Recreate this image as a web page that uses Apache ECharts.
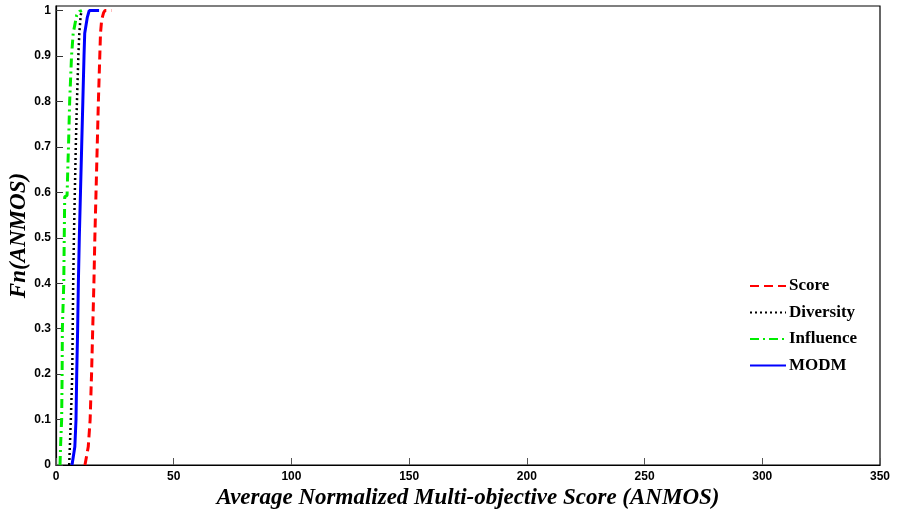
<!DOCTYPE html>
<html>
<head>
<meta charset="utf-8">
<script src="https://cdn.jsdelivr.net/npm/echarts@6/dist/echarts.min.js"></script>
<style>
  html, body { margin: 0; padding: 0; background: #fff; }
  #chart { width: 897px; height: 515px; }
</style>
</head>
<body>
<div id="chart"></div>
<script>
// Empirical CDFs of the Average Normalized Multi-objective Score per method
const scoreX = [12.3, 13.7, 14.5, 15.1, 15.6, 16.1, 16.5, 17.0, 17.5, 18.0, 18.6, 18.9, 19.4, 20.2, 20.8, 23.6];
const scoreY = [0, 0.04, 0.1, 0.2, 0.3, 0.4, 0.5, 0.6, 0.7, 0.8, 0.9, 0.95, 0.98, 0.995, 1, 1];

const diversityX = [5.6, 6.3, 6.9, 7.1, 7.3, 7.6, 8.0, 8.4, 8.9, 9.5, 9.9, 10.5, 11.0];
const diversityY = [0, 0.1, 0.2, 0.3, 0.4, 0.5, 0.6, 0.7, 0.8, 0.9, 0.95, 0.99, 1];

const influenceX = [1.7, 2.0, 2.4, 2.6, 2.7, 3.3, 3.5, 3.7, 4.7, 5.0, 5.3, 5.8, 6.6, 7.3, 8.8, 10.0, 11.0];
const influenceY = [0, 0.05, 0.1, 0.2, 0.3, 0.4, 0.5, 0.59, 0.593, 0.65, 0.7, 0.8, 0.9, 0.95, 0.99, 0.998, 1];

const modmX = [6.8, 8.0, 8.5, 8.8, 9.2, 9.5, 9.9, 10.4, 10.9, 11.4, 11.9, 12.2, 13.3, 14.1, 18.3];
const modmY = [0, 0.04, 0.1, 0.2, 0.3, 0.4, 0.5, 0.6, 0.7, 0.8, 0.9, 0.95, 0.985, 1, 1];

const seriesNames = ['Score', 'Diversity', 'Influence', 'MODM'];
const xTicks = [0, 50, 100, 150, 200, 250, 300, 350];
const yTicks = [0, 0.1, 0.2, 0.3, 0.4, 0.5, 0.6, 0.7, 0.8, 0.9, 1];

function pairs(xs, ys) {
  return xs.map((x, i) => [x, ys[i]]);
}

const chart = echarts.init(document.getElementById('chart'), null, { renderer: 'canvas' });

const tickFont = {
  fontFamily: '"Liberation Sans", Arial, sans-serif',
  fontWeight: 'bold',
  fontSize: 12,
  color: '#000'
};

const nameFont = {
  fontFamily: '"Liberation Serif", "Times New Roman", serif',
  fontStyle: 'italic',
  fontWeight: 'bold',
  fontSize: 23,
  color: '#000'
};

chart.setOption({
  animation: false,
  backgroundColor: '#fff',
  grid: {
    left: 56, right: 17, top: 6, bottom: 50,
    outerBoundsMode: 'none',
    containLabel: false,
    show: true, borderColor: '#000', borderWidth: 1.2, backgroundColor: 'transparent'
  },
  legend: {
    orient: 'vertical',
    left: 744,
    top: 272,
    itemWidth: 36,
    itemHeight: 14,
    itemGap: 8.5,
    data: seriesNames,
    itemStyle: { opacity: 0 },
    textStyle: {
      fontFamily: '"Liberation Serif", "Times New Roman", serif',
      fontWeight: 'bold',
      fontSize: 17,
      lineHeight: 18,
      color: '#000',
      padding: [0, 0, 0, -2]
    }
  },
  xAxis: {
    type: 'value',
    min: 0, max: 350, interval: 50,
    name: 'Average Normalized Multi-objective Score (ANMOS)',
    nameLocation: 'middle',
    nameGap: 22,
    nameMoveOverlap: false,
    nameTextStyle: nameFont,
    axisLine: { show: true, lineStyle: { color: '#000', width: 1.2 } },
    axisTick: { show: true, inside: true, length: 7, lineStyle: { color: '#555', width: 1 } },
    axisLabel: Object.assign({ margin: 6, customValues: xTicks }, tickFont),
    splitLine: { show: false }
  },
  yAxis: {
    type: 'value',
    min: 0, max: 1.01, interval: 0.1,
    name: 'Fn(ANMOS)',
    nameLocation: 'middle',
    nameGap: 25,
    nameMoveOverlap: false,
    nameTextStyle: nameFont,
    axisLine: { show: true, lineStyle: { color: '#000', width: 1.2 } },
    axisTick: { show: true, inside: true, length: 7, customValues: yTicks, lineStyle: { color: '#333', width: 1 } },
    axisLabel: Object.assign({
      margin: 5,
      customValues: yTicks,
      formatter: v => (Math.round(v * 10) / 10).toString()
    }, tickFont),
    splitLine: { show: false }
  },
  series: [
    {
      name: 'Score', type: 'line', symbol: 'none',
      data: pairs(scoreX, scoreY),
      lineStyle: { color: '#ff0000', width: 3, type: [9, 5] },
      itemStyle: { color: '#ff0000' }
    },
    {
      name: 'Diversity', type: 'line', symbol: 'none',
      data: pairs(diversityX, diversityY),
      lineStyle: { color: '#000000', width: 2.5, type: [2, 3] },
      itemStyle: { color: '#000000' }
    },
    {
      name: 'Influence', type: 'line', symbol: 'none',
      data: pairs(influenceX, influenceY),
      lineStyle: { color: '#00ee00', width: 3, type: [9, 4, 2, 4] },
      itemStyle: { color: '#00ee00' }
    },
    {
      name: 'MODM', type: 'line', symbol: 'none',
      data: pairs(modmX, modmY),
      lineStyle: { color: '#0000ff', width: 3 },
      itemStyle: { color: '#0000ff' }
    }
  ]
});
</script>
</body>
</html>
